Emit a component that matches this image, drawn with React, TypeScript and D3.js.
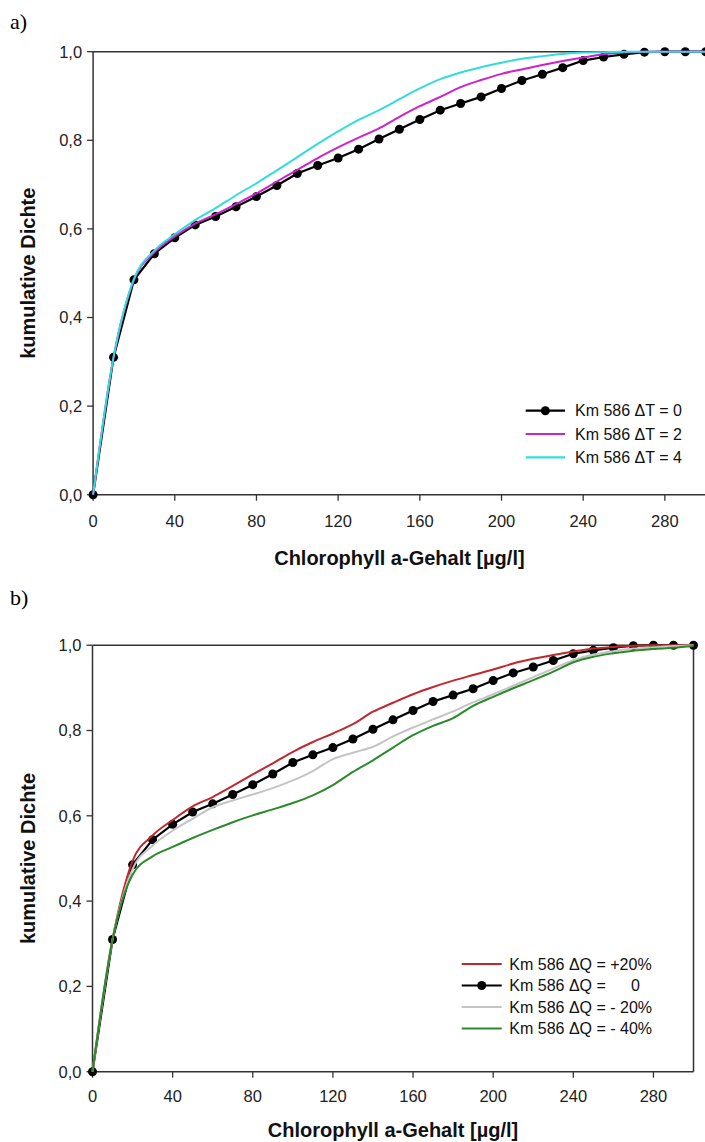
import React from "react";
import * as d3 from "d3";

// ---- data ----
const chlA = d3.range(0, 301, 10); // 0..300 step 10 (x positions of the series)
const xTicks = [0, 40, 80, 120, 160, 200, 240, 280];
const yTicks = [0, 0.2, 0.4, 0.6, 0.8, 1.0];

const km586_dT0 = [0, 0.31, 0.485, 0.544, 0.58, 0.609, 0.628, 0.65, 0.673, 0.698, 0.725, 0.743, 0.76, 0.78, 0.803, 0.825, 0.847, 0.868, 0.883, 0.898, 0.917, 0.935, 0.949, 0.964, 0.98, 0.988, 0.994, 0.999, 1, 1, 1];
const km586_dT2 = [0, 0.31, 0.485, 0.547, 0.583, 0.612, 0.633, 0.656, 0.68, 0.707, 0.733, 0.76, 0.784, 0.806, 0.827, 0.853, 0.877, 0.898, 0.92, 0.936, 0.95, 0.96, 0.97, 0.979, 0.987, 0.994, 0.998, 1, 1, 1, 1];
const km586_dT4 = [0, 0.31, 0.487, 0.551, 0.588, 0.62, 0.647, 0.676, 0.703, 0.732, 0.762, 0.792, 0.82, 0.846, 0.868, 0.893, 0.917, 0.938, 0.953, 0.965, 0.975, 0.984, 0.99, 0.995, 0.998, 0.999, 1, 1, 1, 1, 1];

const km586_dQp20 = [0, 0.31, 0.494, 0.554, 0.59, 0.622, 0.644, 0.67, 0.697, 0.723, 0.75, 0.773, 0.793, 0.815, 0.844, 0.865, 0.885, 0.902, 0.917, 0.93, 0.943, 0.957, 0.968, 0.977, 0.985, 0.992, 0.996, 0.999, 1, 1, 1];
const km586_dQ0 = km586_dT0;
const km586_dQm20 = [0, 0.31, 0.475, 0.53, 0.565, 0.593, 0.62, 0.636, 0.65, 0.665, 0.683, 0.705, 0.733, 0.748, 0.762, 0.786, 0.807, 0.826, 0.845, 0.866, 0.885, 0.905, 0.925, 0.945, 0.965, 0.978, 0.986, 0.992, 0.995, 0.998, 1];
const km586_dQm40 = [0, 0.31, 0.462, 0.505, 0.527, 0.548, 0.567, 0.585, 0.601, 0.615, 0.63, 0.648, 0.672, 0.703, 0.73, 0.76, 0.789, 0.811, 0.829, 0.858, 0.879, 0.899, 0.918, 0.938, 0.96, 0.973, 0.981, 0.987, 0.991, 0.994, 0.998];

const seriesA = [
  { label: "Km 586 \u0394T = 0", values: km586_dT0, color: "#000000", dots: true },
  { label: "Km 586 \u0394T = 2", values: km586_dT2, color: "#cc22cc", dots: false },
  { label: "Km 586 \u0394T = 4", values: km586_dT4, color: "#33dcdc", dots: false },
];
const seriesB = [
  { label: "Km 586 \u0394Q = +20%", values: km586_dQp20, color: "#c0282d", dots: false },
  { label: "Km 586 \u0394Q =", tail: "0", values: km586_dQ0, color: "#000000", dots: true },
  { label: "Km 586 \u0394Q = - 20%", values: km586_dQm20, color: "#c4c4c4", dots: false },
  { label: "Km 586 \u0394Q = - 40%", values: km586_dQm40, color: "#2a8a2a", dots: false },
];

const FONT = "'Liberation Sans', Arial, Helvetica, sans-serif";
const AXIS = "#333";

type Series = { label: string; tail?: string; values: number[]; color: string; dots: boolean };

function Panel(props: {
  x0: number; x1: number; y0: number; y1: number;
  series: Series[]; drawOrder: number[];
  rightAxis: boolean;
  tickBaseline: number; titleBaseline: number;
  legend: { lineX0: number; lineX1: number; textX: number; rows: number[]; tailX?: number };
  tag: string; tagY: number;
}) {
  const { x0, x1, y0, y1, series, drawOrder, legend } = props;
  const x = d3.scaleLinear().domain([0, 300]).range([x0, x1]);
  const y = d3.scaleLinear().domain([0, 1]).range([y0, y1]);
  const lineLin = d3.line<number>().x((_, i) => x(chlA[i])).y((v) => y(v));
  const lineSmooth = d3.line<number>().x((_, i) => x(chlA[i])).y((v) => y(v)).curve(d3.curveMonotoneX);
  return (
    <g>
      <text x={10} y={props.tagY} fontFamily="'Liberation Serif', 'Times New Roman', serif" fontSize={22}>{props.tag}</text>
      {/* frame */}
      <line x1={x0} x2={x0} y1={y(1)} y2={y(0)} stroke={AXIS} strokeWidth={1.5} />
      <line x1={x0} x2={x(300)} y1={y(0)} y2={y(0)} stroke={AXIS} strokeWidth={1.5} />
      <line x1={x0} x2={x(300)} y1={y(1)} y2={y(1)} stroke={AXIS} strokeWidth={1.5} />
      {props.rightAxis && <line x1={x(300)} x2={x(300)} y1={y(1)} y2={y(0)} stroke={AXIS} strokeWidth={1.5} />}
      {/* y ticks */}
      {yTicks.map((t) => (
        <g key={"y" + t}>
          <line x1={x0 - 6} x2={x0} y1={y(t)} y2={y(t)} stroke={AXIS} strokeWidth={1.3} />
          <text x={x0 - 11} y={y(t)} dy="0.36em" textAnchor="end" fontFamily={FONT} fontSize={16.5} fill="#222">
            {d3.format(".1f")(t).replace(".", ",")}
          </text>
        </g>
      ))}
      {/* x ticks */}
      {xTicks.map((t) => (
        <g key={"x" + t}>
          <line x1={x(t)} x2={x(t)} y1={y(0)} y2={y(0) + 6} stroke={AXIS} strokeWidth={1.3} />
          <text x={x(t)} y={props.tickBaseline} textAnchor="middle" fontFamily={FONT} fontSize={16.5} fill="#222">{t}</text>
        </g>
      ))}
      {/* titles */}
      <text x={(x0 + x(300)) / 2} y={props.titleBaseline} textAnchor="middle" fontFamily={FONT} fontWeight="bold" fontSize={20} fill="#111">
        Chlorophyll a-Gehalt [µg/l]
      </text>
      <text transform={`translate(35,${(y(0) + y(1)) / 2}) rotate(-90)`} textAnchor="middle" fontFamily={FONT} fontWeight="bold" fontSize={20} fill="#111">
        kumulative Dichte
      </text>
      {/* series */}
      {drawOrder.map((si) => {
        const s = series[si];
        return (
          <g key={"s" + si}>
            <path d={(s.dots ? lineLin : lineSmooth)(s.values) || ""} fill="none" stroke={s.color} strokeWidth={s.dots ? 2.2 : 2} />
            {s.dots && s.values.map((v, i) => <circle key={i} cx={x(chlA[i])} cy={y(v)} r={4.5} fill="#000" />)}
          </g>
        );
      })}
      {/* legend */}
      {series.map((s, i) => {
        const ry = legend.rows[i];
        return (
          <g key={"l" + i}>
            <line x1={legend.lineX0} x2={legend.lineX1} y1={ry} y2={ry} stroke={s.color} strokeWidth={2.2} />
            {s.dots && <circle cx={(legend.lineX0 + legend.lineX1) / 2} cy={ry} r={4.5} fill="#000" />}
            <text x={legend.textX} y={ry} dy="0.36em" fontFamily={FONT} fontSize={16} fill="#111">{s.label}</text>
            {s.tail && <text x={legend.tailX} y={ry} dy="0.36em" fontFamily={FONT} fontSize={16} fill="#111">{s.tail}</text>}
          </g>
        );
      })}
    </g>
  );
}

export default function App() {
  return (
    <svg width={705} height={1142} style={{ position: "absolute", left: 0, top: 0, background: "#fff" }}>
      <rect x={0} y={0} width={705} height={1142} fill="#fff" />
      <Panel
        x0={93.1} x1={705.7} y0={494.7} y1={51.7}
        series={seriesA} drawOrder={[0, 1, 2]} rightAxis={false}
        tickBaseline={526.5} titleBaseline={565}
        legend={{ lineX0: 525.7, lineX1: 565, textX: 575, rows: [410.7, 434, 457.3] }}
        tag="a)" tagY={29}
      />
      <Panel
        x0={92.5} x1={693.5} y0={1071.7} y1={645.2}
        series={seriesB} drawOrder={[1, 0, 2, 3]} rightAxis={true}
        tickBaseline={1101.5} titleBaseline={1137}
        legend={{ lineX0: 461.7, lineX1: 501.7, textX: 509.3, rows: [964, 985.5, 1007, 1028.5], tailX: 631 }}
        tag="b)" tagY={605}
      />
    </svg>
  );
}
